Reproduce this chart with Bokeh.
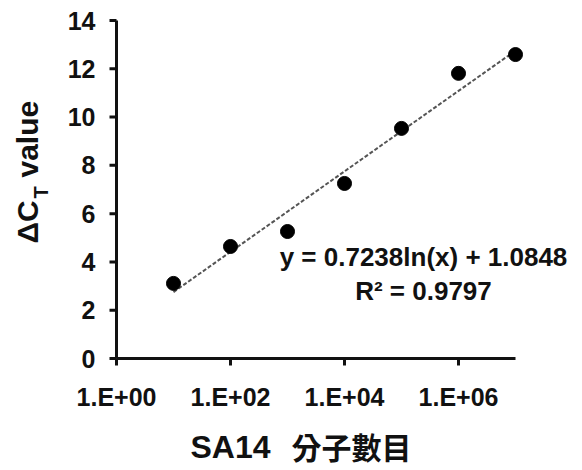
import math
from bokeh.plotting import figure
from bokeh.models import Range1d, Label, ColumnDataSource
from bokeh.core.properties import value
from bokeh.embed import file_html
from bokeh.resources import INLINE

# ---- data ----
MOLECULE_COUNTS = [1e1, 1e2, 1e3, 1e4, 1e5, 1e6, 1e7]
DELTA_CT = [3.11, 4.64, 5.26, 7.25, 9.53, 11.81, 12.59]
Y_TICKS = [0, 2, 4, 6, 8, 10, 12, 14]
X_TICKS = [1, 1e2, 1e4, 1e6]
X_TICK_LABELS = ["1.E+00", "1.E+02", "1.E+04", "1.E+06"]
X_MIN, X_MAX = 1, 1e7
Y_MIN, Y_MAX = 0, 14
TREND_A = 0.7238
TREND_B = 1.0848
TREND_X = [1e1, 1e7]
EQ_TEXT = "y = 0.7238ln(x) + 1.0848"
R2_TEXT = "R\u00b2 = 0.9797"
X_LABEL_EN = "SA14"
X_LABEL_ZH = "分子數目"

trend_y = [TREND_A * math.log(x) + TREND_B for x in TREND_X]

# ---- layout (pixels) ----
W, H = 582, 470
LEFT, RIGHT, TOP, BOTTOM = 116, 515, 20, 358   # data area in canvas px
PX_DEC = (RIGHT - LEFT) / (math.log10(X_MAX) - math.log10(X_MIN))
PX_UNIT = (BOTTOM - TOP) / (Y_MAX - Y_MIN)
lx0 = math.log10(X_MIN) - LEFT / PX_DEC
lx1 = math.log10(X_MAX) + (W - RIGHT) / PX_DEC
y0 = Y_MIN - (H - BOTTOM) / PX_UNIT
y1 = Y_MAX + TOP / PX_UNIT

def xpx(dx):   # x (data, log) shifted by dx pixels from X_MIN
    return 10 ** (math.log10(X_MIN) + dx / PX_DEC)

def ypx(dy):   # y data shifted by dy pixels from Y_MIN (positive = up)
    return Y_MIN + dy / PX_UNIT

FONT = "Liberation Sans"
INK = "#111111"
TICK = 7

p = figure(width=W, height=H, x_axis_type="log",
           x_range=Range1d(10 ** lx0, 10 ** lx1), y_range=Range1d(y0, y1),
           x_axis_location=None, y_axis_location=None,
           output_backend="svg", toolbar_location=None, min_border=0)
p.outline_line_color = None
p.grid.visible = False
p.background_fill_color = "white"
p.border_fill_color = "white"

# axes drawn through the data scales
p.segment(x0=[X_MIN], y0=[Y_MIN], x1=[X_MAX], y1=[Y_MIN], line_width=3, line_color=INK)
p.segment(x0=[X_MIN], y0=[Y_MIN], x1=[X_MIN], y1=[Y_MAX], line_width=3, line_color=INK)
p.segment(x0=[xpx(-TICK)] * len(Y_TICKS), y0=Y_TICKS, x1=[X_MIN] * len(Y_TICKS), y1=Y_TICKS,
          line_width=3, line_color=INK)
p.segment(x0=X_TICKS, y0=[ypx(-TICK)] * len(X_TICKS), x1=X_TICKS, y1=[Y_MIN] * len(X_TICKS),
          line_width=3, line_color=INK)

# tick labels
p.text(x=[xpx(-TICK - 14)] * len(Y_TICKS), y=Y_TICKS, text=[str(t) for t in Y_TICKS],
       text_font=value(FONT), text_font_style="bold", text_font_size="25px",
       text_color=INK, text_align="right", text_baseline="middle")
p.text(x=X_TICKS, y=[ypx(-TICK - 17)] * len(X_TICKS), text=X_TICK_LABELS,
       text_font=value(FONT), text_font_style="bold", text_font_size="25px",
       text_color=INK, text_align="center", text_baseline="top")

# trend line + points
p.line(TREND_X, trend_y, line_color="#555555", line_width=2, line_dash="4 2")
src = ColumnDataSource(dict(x=MOLECULE_COUNTS, y=DELTA_CT))
p.scatter("x", "y", source=src, size=14, fill_color="black", line_color="black")

def lab(text, x, y, size, font=FONT, angle=0, align="left", style="bold"):
    # x, y = canvas pixels from top-left of the text baseline start
    shift = 0.43 * size
    if angle:
        x -= shift
    else:
        y -= shift
    p.add_layout(Label(x=x, y=H - y, x_units="screen", y_units="screen",
                       text=text, text_font=font, text_font_size=f"{size}px",
                       text_font_style=style, text_color=INK, angle=angle,
                       text_align=align, text_baseline="alphabetic"))

# y-axis label: ΔC_T value (rotated)
lab("\u0394C", 40, 243, 30, angle=math.pi / 2)
lab("T", 49, 198, 20, angle=math.pi / 2)
lab("value", 40, 177, 30, angle=math.pi / 2)

# x-axis label
lab(X_LABEL_EN, 190, 460, 32)
lab(X_LABEL_ZH, 291, 458, 30, font="Noto Sans CJK TC")

# equation
lab(EQ_TEXT, 423, 268, 26, align="center")
lab(R2_TEXT, 423, 302, 26, align="center")

open("out.html", "w").write(file_html(p, INLINE))
